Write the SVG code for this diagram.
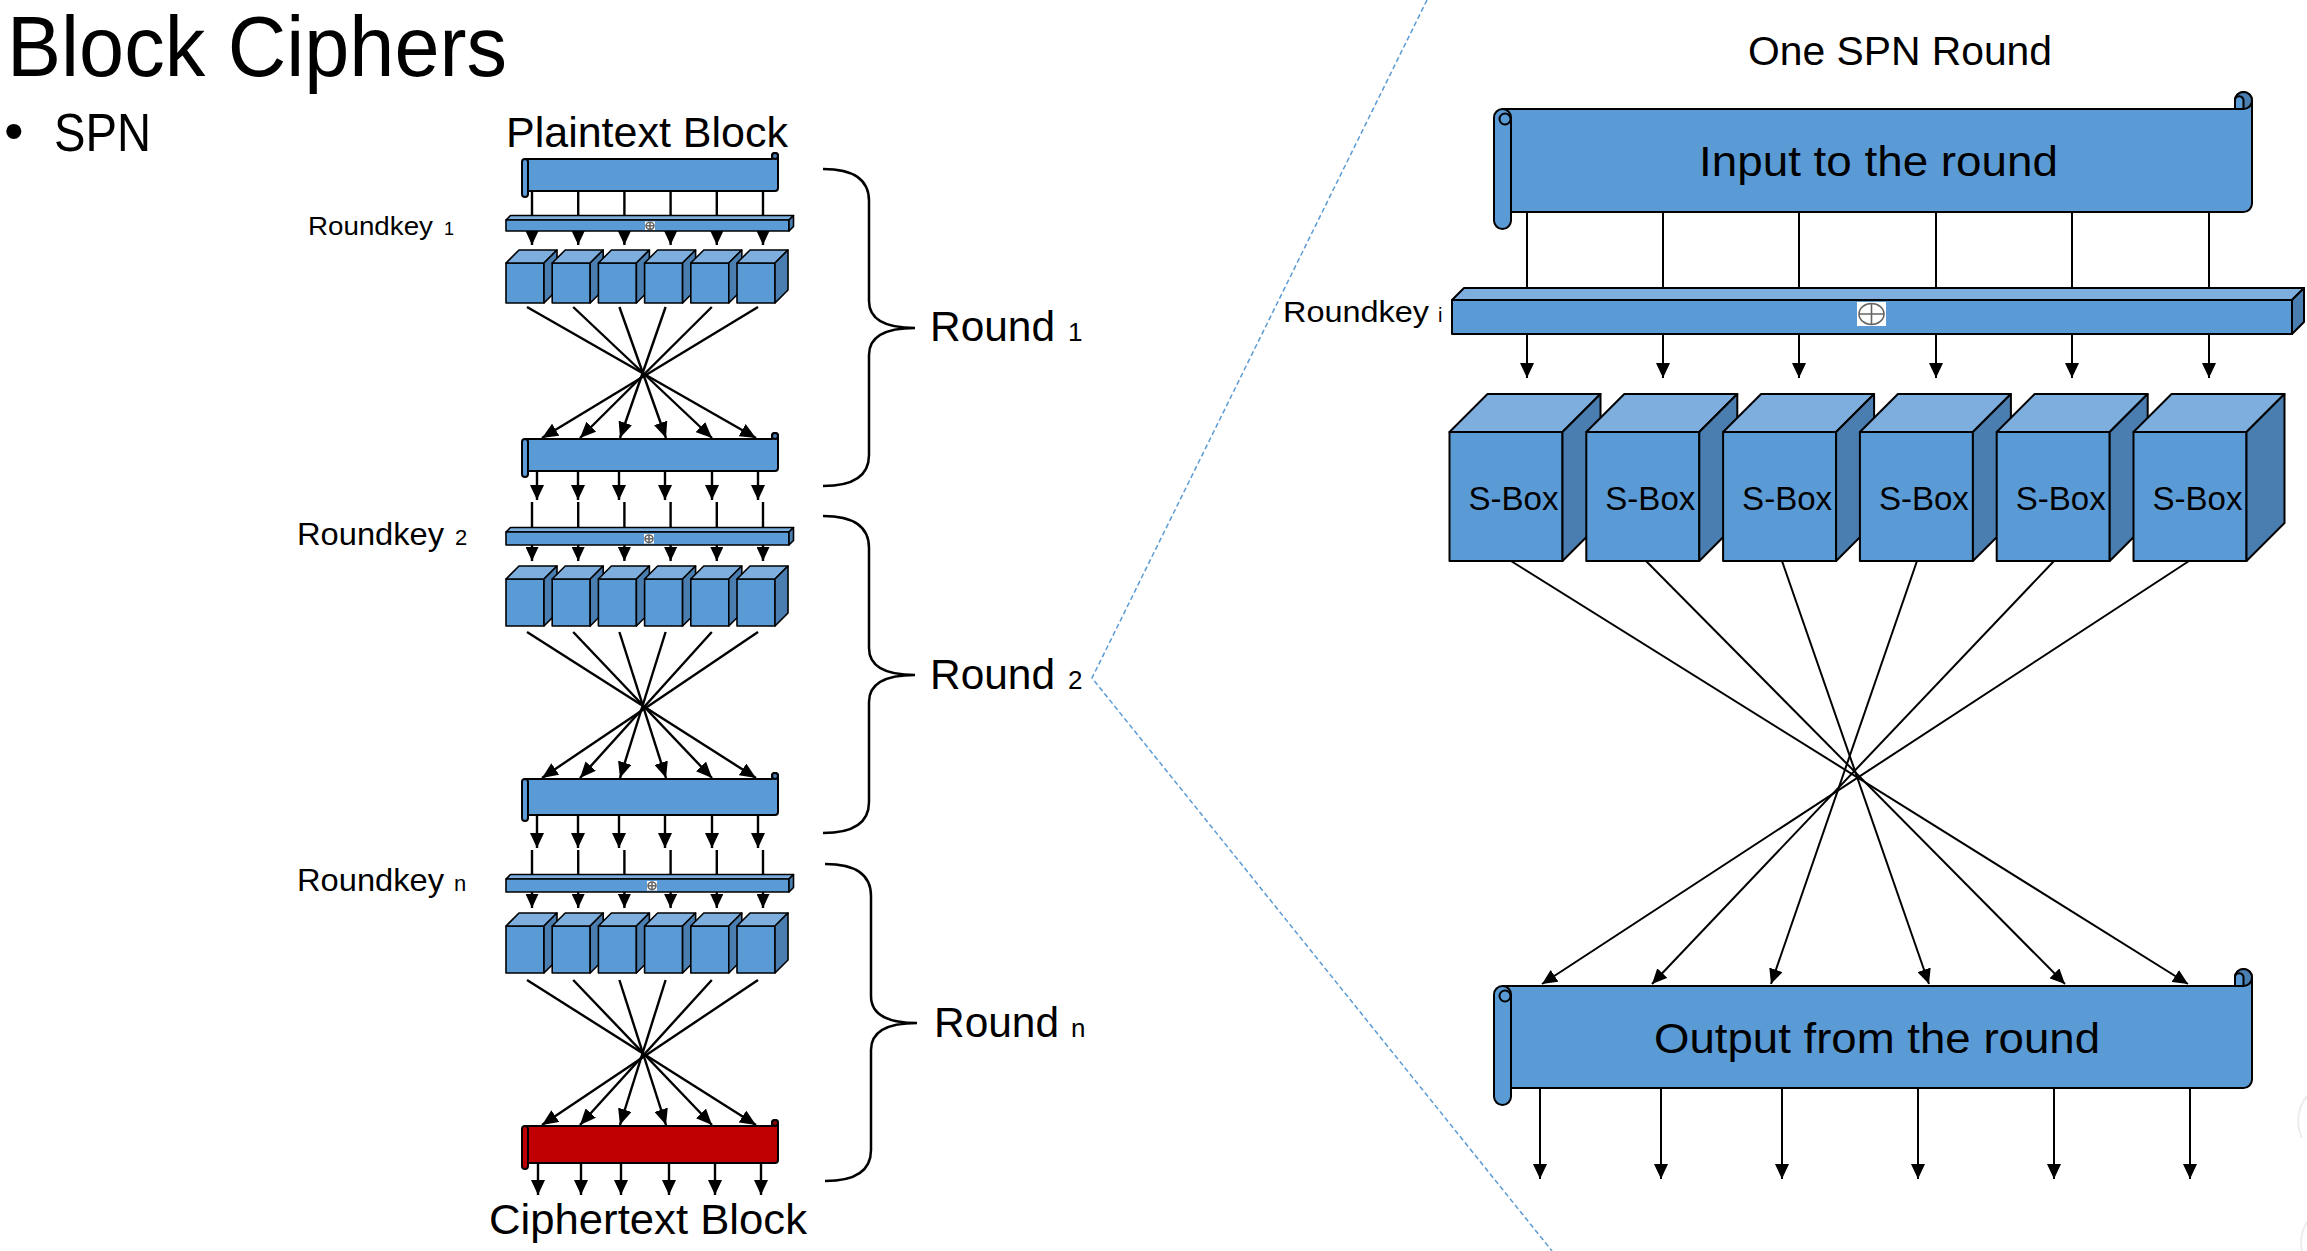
<svg xmlns="http://www.w3.org/2000/svg" width="2307" height="1251" viewBox="0 0 2307 1251">
<style>
text{font-family:"Liberation Sans",Arial,sans-serif;fill:#000}
.front{fill:#5B9BD5;stroke:#000;stroke-width:1.6;stroke-linejoin:round}
.top{fill:#7DAEDE;stroke:#000;stroke-width:1.6;stroke-linejoin:round}
.side{fill:#4A7EB0;stroke:#000;stroke-width:1.6;stroke-linejoin:round}
.big .front,.big .top,.big .side{stroke-width:2}
.sc{fill:#5B9BD5;stroke:#000;stroke-width:2;stroke-linejoin:round}
.scd{fill:#4A7EB0;stroke:#000;stroke-width:2}
.rd{fill:#C00000;stroke:#000;stroke-width:2;stroke-linejoin:round}
.rdd{fill:#8E0000;stroke:#000;stroke-width:2}
.ln{stroke:#000;stroke-width:2;fill:none}
.lnl{stroke:#000;stroke-width:2.4;fill:none}
.aL{marker-end:url(#ahL)}
.aM{marker-end:url(#ahM)}
.aS{marker-end:url(#ahS)}
.dash{stroke:#5B9BD5;stroke-width:1.5;stroke-dasharray:5 3;fill:none}
.brace{stroke:#000;stroke-width:2.5;fill:none}
.xw{fill:#fff;stroke:none}
.xc{fill:none;stroke:#666;stroke-width:1.6}
</style>
<defs>
<marker id="ahL" viewBox="0 0 10 10" refX="10" refY="5" markerWidth="15" markerHeight="14" markerUnits="userSpaceOnUse" orient="auto" preserveAspectRatio="none"><path d="M0,0 L10,5 L0,10 Z" fill="#000"/></marker>
<marker id="ahM" viewBox="0 0 10 10" refX="10" refY="5" markerWidth="16" markerHeight="14" markerUnits="userSpaceOnUse" orient="auto" preserveAspectRatio="none"><path d="M0,0 L10,5 L0,10 Z" fill="#000"/></marker>
<marker id="ahS" viewBox="0 0 10 10" refX="10" refY="5" markerWidth="14" markerHeight="13" markerUnits="userSpaceOnUse" orient="auto" preserveAspectRatio="none"><path d="M0,0 L10,5 L0,10 Z" fill="#000"/></marker>
<g id="cubeS1"><rect class="front" x="0" y="0" width="38" height="40"/><path class="top" d="M0,0 L13,-13 L51,-13 L38,0 Z"/><path class="side" d="M38,0 L51,-13 L51,27 L38,40 Z"/></g>
<g id="cubeS2"><rect class="front" x="0" y="0" width="38" height="47"/><path class="top" d="M0,0 L13,-13 L51,-13 L38,0 Z"/><path class="side" d="M38,0 L51,-13 L51,34 L38,47 Z"/></g>
<g id="cubeL" class="big"><rect class="front" x="0" y="0" width="113" height="129"/><path class="top" d="M0,0 L38,-38 L151,-38 L113,0 Z"/><path class="side" d="M113,0 L151,-38 L151,91 L113,129 Z"/></g>
<path id="braceP" d="M0,0 C29,0 46,10 46,32 L46,132 C46,150 62,159 92,159 C62,159 46,168 46,186 L46,286 C46,308 29,317 0,317"/>
</defs>

<g id="title">
<text x="7" y="76" font-size="85" textLength="500" lengthAdjust="spacingAndGlyphs">Block Ciphers</text>
<text x="4" y="150" font-size="56">•</text>
<text x="54" y="151" font-size="54" textLength="97" lengthAdjust="spacingAndGlyphs">SPN</text>
</g>

<path id="zoom-lines" class="dash" d="M1427,0 L1092,678 L1552,1251"/>
<path d="M2307,1096 A40,40 0 0 0 2302,1138 M2307,1222 A40,40 0 0 0 2302,1251" fill="none" stroke="#ececec" stroke-width="2"/>

<!-- left column -->
<g id="plaintext">
<text x="506" y="147" font-size="43" textLength="282" lengthAdjust="spacingAndGlyphs">Plaintext Block</text>
<path class="sc" d="M525,159 H772 V156 A3,3 0 0 1 778,156 V188 A3,3 0 0 1 775,191 H525 Z"/>
<circle class="scd" cx="775" cy="156" r="3"/>
<rect class="sc" x="522" y="159" width="6" height="38" rx="3"/>
</g>

<g id="roundkey1">
<path class="top" d="M506,220 L510.5,215.5 L793.5,215.5 L789,220 Z"/>
<rect class="front" x="506" y="220" width="283" height="11"/>
<path class="side" d="M789,220 L793.5,215.5 L793.5,226.5 L789,231 Z"/>
<rect class="xw" x="645" y="221.5" width="10" height="8.5"/>
<ellipse class="xc" cx="650" cy="225.8" rx="4" ry="3.5" stroke-width="1"/>
<path class="xc" stroke-width="1" d="M646,225.8 H654 M650,222.3 V229.3"/>
<text x="308" y="235" font-size="26" textLength="125" lengthAdjust="spacingAndGlyphs">Roundkey</text>
<text x="444" y="235" font-size="18">1</text>
</g>

<g id="sboxes1">
<use href="#cubeS1" x="506" y="263"/><use href="#cubeS1" x="552.2" y="263"/><use href="#cubeS1" x="598.4" y="263"/><use href="#cubeS1" x="644.6" y="263"/><use href="#cubeS1" x="690.8" y="263"/><use href="#cubeS1" x="737" y="263"/>
</g>

<g id="block2">
<path class="sc" d="M525,439 H772 V436 A3,3 0 0 1 778,436 V468 A3,3 0 0 1 775,471 H525 Z"/>
<circle class="scd" cx="775" cy="436" r="3"/>
<rect class="sc" x="522" y="439" width="6" height="38" rx="3"/>
</g>

<g id="roundkey2">
<path class="top" d="M506,532 L510.5,527.5 L793.5,527.5 L789,532 Z"/>
<rect class="front" x="506" y="532" width="283" height="13"/>
<path class="side" d="M789,532 L793.5,527.5 L793.5,540.5 L789,545 Z"/>
<rect class="xw" x="644" y="534" width="10" height="9.5"/>
<ellipse class="xc" cx="649" cy="538.8" rx="4" ry="3.8" stroke-width="1"/>
<path class="xc" stroke-width="1" d="M645,538.8 H653 M649,535 V542.6"/>
<text x="297" y="545" font-size="32" textLength="147" lengthAdjust="spacingAndGlyphs">Roundkey</text>
<text x="455" y="545" font-size="22">2</text>
</g>

<g id="sboxes2">
<use href="#cubeS2" x="506" y="579"/><use href="#cubeS2" x="552.2" y="579"/><use href="#cubeS2" x="598.4" y="579"/><use href="#cubeS2" x="644.6" y="579"/><use href="#cubeS2" x="690.8" y="579"/><use href="#cubeS2" x="737" y="579"/>
</g>

<g id="block3">
<path class="sc" d="M525,779 H772 V776 A3,3 0 0 1 778,776 V812 A3,3 0 0 1 775,815 H525 Z"/>
<circle class="scd" cx="775" cy="776" r="3"/>
<rect class="sc" x="522" y="779" width="6" height="42" rx="3"/>
</g>

<g id="roundkeyn">
<path class="top" d="M506,879 L510.5,874.5 L793.5,874.5 L789,879 Z"/>
<rect class="front" x="506" y="879" width="283" height="13"/>
<path class="side" d="M789,879 L793.5,874.5 L793.5,887.5 L789,892 Z"/>
<rect class="xw" x="647" y="881" width="10" height="9.5"/>
<ellipse class="xc" cx="652" cy="885.8" rx="4" ry="3.8" stroke-width="1"/>
<path class="xc" stroke-width="1" d="M648,885.8 H656 M652,882 V889.6"/>
<text x="297" y="891" font-size="32" textLength="147" lengthAdjust="spacingAndGlyphs">Roundkey</text>
<text x="454" y="891" font-size="22">n</text>
</g>

<g id="sboxesn">
<use href="#cubeS2" x="506" y="926"/><use href="#cubeS2" x="552.2" y="926"/><use href="#cubeS2" x="598.4" y="926"/><use href="#cubeS2" x="644.6" y="926"/><use href="#cubeS2" x="690.8" y="926"/><use href="#cubeS2" x="737" y="926"/>
</g>

<g id="ciphertext">
<path class="rd" d="M525,1126 H772 V1123 A3,3 0 0 1 778,1123 V1160 A3,3 0 0 1 775,1163 H525 Z"/>
<circle class="rdd" cx="775" cy="1123" r="3"/>
<rect class="rd" x="522" y="1126" width="6" height="43" rx="3"/>
<text x="489" y="1234" font-size="43" textLength="318" lengthAdjust="spacingAndGlyphs">Ciphertext Block</text>
</g>

<g id="round1-label">
<use href="#braceP" class="brace" x="823" y="169"/>
<text x="930" y="341" font-size="43" textLength="125" lengthAdjust="spacingAndGlyphs">Round</text>
<text x="1068" y="341" font-size="26">1</text>
</g>
<g id="round2-label">
<use href="#braceP" class="brace" x="823" y="516"/>
<text x="930" y="689" font-size="43" textLength="125" lengthAdjust="spacingAndGlyphs">Round</text>
<text x="1068" y="689" font-size="26">2</text>
</g>
<g id="roundn-label">
<use href="#braceP" class="brace" x="825" y="864"/>
<text x="934" y="1037" font-size="43" textLength="125" lengthAdjust="spacingAndGlyphs">Round</text>
<text x="1071" y="1037" font-size="26">n</text>
</g>

<!-- right side -->
<text id="spn-title" x="1748" y="65" font-size="40" textLength="304" lengthAdjust="spacingAndGlyphs">One SPN Round</text>

<g id="input">
<path class="sc" d="M1502.5,109 H2235 V100.5 A8.5,8.5 0 0 1 2252,100.5 V203.5 A8.5,8.5 0 0 1 2243.5,212 H1502.5 Z"/>
<circle class="scd" cx="2243.5" cy="100.5" r="8.5"/>
<path class="sc" d="M2235,109 V100.5 A4.25,4.25 0 0 1 2243.5,100.5 V109 Z"/>
<rect class="sc" x="1494" y="109" width="17" height="120" rx="8.5"/>
<circle class="sc" cx="1505" cy="119" r="5.5"/>
<text x="1699" y="176" font-size="42" textLength="359" lengthAdjust="spacingAndGlyphs">Input to the round</text>
</g>

<g id="roundkeyi" class="big">
<path class="top" d="M1452,300 L1464,288 L2304,288 L2292,300 Z"/>
<rect class="front" x="1452" y="300" width="840" height="34"/>
<path class="side" d="M2292,300 L2304,288 L2304,322 L2292,334 Z"/>
<rect class="xw" x="1857" y="302" width="29" height="24"/>
<ellipse class="xc" cx="1871.5" cy="314" rx="12.5" ry="10.5" stroke-width="2"/>
<path class="xc" stroke-width="2" d="M1859,314 H1884 M1871.5,303.5 V324.5"/>
<text x="1283" y="322" font-size="30" textLength="146" lengthAdjust="spacingAndGlyphs">Roundkey</text>
<text x="1438" y="322" font-size="20">i</text>
</g>

<g id="sbox1"><use href="#cubeL" x="1449.5" y="432"/><text x="1468.5" y="510" font-size="34" textLength="90" lengthAdjust="spacingAndGlyphs">S-Box</text></g>
<g id="sbox2"><use href="#cubeL" x="1586.3" y="432"/><text x="1605.3" y="510" font-size="34" textLength="90" lengthAdjust="spacingAndGlyphs">S-Box</text></g>
<g id="sbox3"><use href="#cubeL" x="1723.1" y="432"/><text x="1742.1" y="510" font-size="34" textLength="90" lengthAdjust="spacingAndGlyphs">S-Box</text></g>
<g id="sbox4"><use href="#cubeL" x="1859.9" y="432"/><text x="1878.9" y="510" font-size="34" textLength="90" lengthAdjust="spacingAndGlyphs">S-Box</text></g>
<g id="sbox5"><use href="#cubeL" x="1996.7" y="432"/><text x="2015.7" y="510" font-size="34" textLength="90" lengthAdjust="spacingAndGlyphs">S-Box</text></g>
<g id="sbox6"><use href="#cubeL" x="2133.5" y="432"/><text x="2152.5" y="510" font-size="34" textLength="90" lengthAdjust="spacingAndGlyphs">S-Box</text></g>

<g id="output">
<path class="sc" d="M1502.5,986 H2235 V977.5 A8.5,8.5 0 0 1 2252,977.5 V1079.5 A8.5,8.5 0 0 1 2243.5,1088 H1502.5 Z"/>
<circle class="scd" cx="2243.5" cy="977.5" r="8.5"/>
<path class="sc" d="M2235,986 V977.5 A4.25,4.25 0 0 1 2243.5,977.5 V986 Z"/>
<rect class="sc" x="1494" y="986" width="17" height="119" rx="8.5"/>
<circle class="sc" cx="1505" cy="996" r="5.5"/>
<text x="1654" y="1053" font-size="42" textLength="446" lengthAdjust="spacingAndGlyphs">Output from the round</text>
</g>

<g id="connectors">
<!-- left round 1 -->
<path class="lnl" d="M532,191 V216 M578.2,191 V216 M624.4,191 V216 M670.6,191 V216 M716.8,191 V216 M763,191 V216"/>
<path class="lnl aS" d="M532,231 V245"/><path class="lnl aS" d="M578.2,231 V245"/><path class="lnl aS" d="M624.4,231 V245"/><path class="lnl aS" d="M670.6,231 V245"/><path class="lnl aS" d="M716.8,231 V245"/><path class="lnl aS" d="M763,231 V245"/>
<path class="lnl aM" d="M527,307 L756,438"/><path class="lnl aM" d="M573.2,307 L712,438"/><path class="lnl aM" d="M619.4,307 L666,438"/><path class="lnl aM" d="M665.6,307 L620,438"/><path class="lnl aM" d="M711.8,307 L580,438"/><path class="lnl aM" d="M758,307 L542,438"/>
<path class="lnl aL" d="M537,471 V500"/><path class="lnl aL" d="M578,471 V500"/><path class="lnl aL" d="M619,471 V500"/><path class="lnl aL" d="M665,471 V500"/><path class="lnl aL" d="M712,471 V500"/><path class="lnl aL" d="M758,471 V500"/>
<!-- left round 2 -->
<path class="lnl" d="M532,502 V528 M578.2,502 V528 M624.4,502 V528 M670.6,502 V528 M716.8,502 V528 M763,502 V528"/>
<path class="lnl aS" d="M532,545 V561"/><path class="lnl aS" d="M578.2,545 V561"/><path class="lnl aS" d="M624.4,545 V561"/><path class="lnl aS" d="M670.6,545 V561"/><path class="lnl aS" d="M716.8,545 V561"/><path class="lnl aS" d="M763,545 V561"/>
<path class="lnl aM" d="M527,632 L756,778"/><path class="lnl aM" d="M573.2,632 L712,778"/><path class="lnl aM" d="M619.4,632 L666,778"/><path class="lnl aM" d="M665.6,632 L620,778"/><path class="lnl aM" d="M711.8,632 L580,778"/><path class="lnl aM" d="M758,632 L542,778"/>
<path class="lnl aL" d="M537,815 V848"/><path class="lnl aL" d="M578,815 V848"/><path class="lnl aL" d="M619,815 V848"/><path class="lnl aL" d="M665,815 V848"/><path class="lnl aL" d="M712,815 V848"/><path class="lnl aL" d="M758,815 V848"/>
<!-- left round n -->
<path class="lnl" d="M532,850 V875 M578.2,850 V875 M624.4,850 V875 M670.6,850 V875 M716.8,850 V875 M763,850 V875"/>
<path class="lnl aS" d="M532,892 V908"/><path class="lnl aS" d="M578.2,892 V908"/><path class="lnl aS" d="M624.4,892 V908"/><path class="lnl aS" d="M670.6,892 V908"/><path class="lnl aS" d="M716.8,892 V908"/><path class="lnl aS" d="M763,892 V908"/>
<path class="lnl aM" d="M527,980 L756,1125"/><path class="lnl aM" d="M573.2,980 L712,1125"/><path class="lnl aM" d="M619.4,980 L666,1125"/><path class="lnl aM" d="M665.6,980 L620,1125"/><path class="lnl aM" d="M711.8,980 L580,1125"/><path class="lnl aM" d="M758,980 L542,1125"/>
<path class="lnl aL" d="M538,1163 V1195"/><path class="lnl aL" d="M581,1163 V1195"/><path class="lnl aL" d="M621,1163 V1195"/><path class="lnl aL" d="M669,1163 V1195"/><path class="lnl aL" d="M715,1163 V1195"/><path class="lnl aL" d="M761,1163 V1195"/>
<!-- right -->
<path class="ln" d="M1527,212 V288 M1663,212 V288 M1799,212 V288 M1936,212 V288 M2072,212 V288 M2209,212 V288"/>
<path class="ln aL" d="M1527,334 V378"/><path class="ln aL" d="M1663,334 V378"/><path class="ln aL" d="M1799,334 V378"/><path class="ln aL" d="M1936,334 V378"/><path class="ln aL" d="M2072,334 V378"/><path class="ln aL" d="M2209,334 V378"/>
<path class="ln aL" d="M1511,561 L2188,984"/><path class="ln aL" d="M1646,561 L2065,984"/><path class="ln aL" d="M1782,561 L1929,984"/><path class="ln aL" d="M1917,561 L1771,984"/><path class="ln aL" d="M2054,561 L1652,984"/><path class="ln aL" d="M2189,561 L1542,984"/>
<path class="ln aL" d="M1540,1088 V1179"/><path class="ln aL" d="M1661,1088 V1179"/><path class="ln aL" d="M1782,1088 V1179"/><path class="ln aL" d="M1918,1088 V1179"/><path class="ln aL" d="M2054,1088 V1179"/><path class="ln aL" d="M2190,1088 V1179"/>
</g>
</svg>
